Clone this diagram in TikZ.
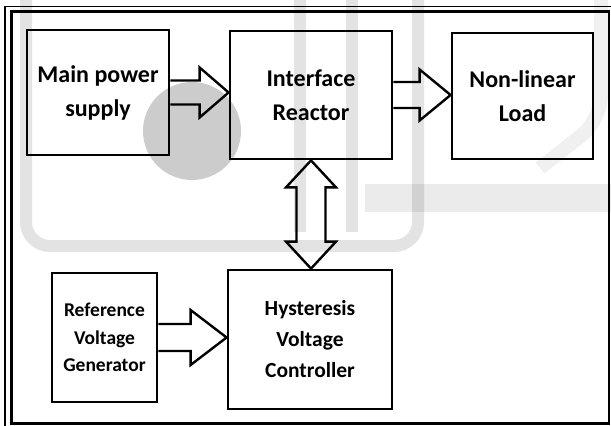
\documentclass[tikz,border=0pt]{standalone}
\usepackage{fontspec}
\setmainfont{Carlito}
\usetikzlibrary{calc}

\tikzset{
  block/.style={draw, line width=2.8pt, fill=white, align=center, inner sep=2pt,
    font=\bfseries\fontsize{24}{34}\selectfont},
  hollow/.style={draw, line width=2.4pt, fill=white, line join=miter},
  wmband/.style={draw=black, draw opacity=0.11, line width=12pt, rounded corners=24pt},
}

% block arrow pointing right: from, to, shaft half width, head half width, head length
\newcommand{\hollowright}[5]{%
  \draw[hollow] let \p1=#1, \p2=#2 in
    (\x1,\y1+#3) -- (\x2-#5,\y1+#3) -- (\x2-#5,\y1+#4) -- (\x2,\y1)
    -- (\x2-#5,\y1-#4) -- (\x2-#5,\y1-#3) -- (\x1,\y1-#3);
}

\begin{document}
\begin{tikzpicture}[x=1pt,y=-1pt]
    \useasboundingbox (0,0) rectangle (611,426);
    % double frame
    \draw[line width=1.4pt] (5,426) -- (5,6.5) -- (611,6.5);
    \draw[line width=2.4pt] (11.5,11.5) rectangle (609,423.5);

    \node[block, minimum width=142pt, minimum height=125pt] (mps) at (98,92.5) {Main power\\supply};
    \node[block, minimum width=162pt, minimum height=128pt] (ir) at (311,95) {Interface\\Reactor};
    \node[block, minimum width=141pt, minimum height=126pt] (nl) at (522.5,96) {Non-linear\\Load};
    \node[block, minimum width=105pt, minimum height=129pt,
      font=\bfseries\fontsize{19.5}{27.5}\selectfont] (ref) at (104.5,337.5) {Reference\\Voltage\\Generator};
    \node[block, minimum width=164pt, minimum height=139pt,
      font=\bfseries\fontsize{21.5}{31}\selectfont] (hvc) at (310,339.5) {Hysteresis\\Voltage\\Controller};

    \hollowright{(mps.east)}{(ir.west)}{12}{25}{29}
    \hollowright{(ir.east)}{(nl.west)}{13}{25.5}{31}
    \hollowright{(ref.east)}{(hvc.west)}{13.5}{27.5}{36}
    \draw[hollow] let \p1=(ir.south), \p2=(hvc.north) in
      (\x1,\y1) -- (\x1+25,\y1-27) -- (\x1+14.5,\y1-27) -- (\x1+14.5,\y2+27) -- (\x1+25,\y2+27)
      -- (\x1,\y2) -- (\x1-25,\y2+27) -- (\x1-14.5,\y2+27) -- (\x1-14.5,\y1-27) -- (\x1-25,\y1-27) -- cycle;

    % faint watermark over the page
    \fill[black, fill opacity=0.2] (192,131) circle[radius=49pt];
    \draw[wmband] (26,0) -- (26,246) -- (418,246) -- (418,0);
    \draw[wmband] (300,0) -- (300,232);
    \draw[wmband] (352,0) -- (352,232);
    \draw[wmband, draw opacity=0.08, line width=28pt, rounded corners=10pt] (365,198) -- (611,198);
    \draw[wmband, draw opacity=0.06, line width=14pt] (601,0) -- (601,120) -- (540,168);
  \end{tikzpicture}
\end{document}
